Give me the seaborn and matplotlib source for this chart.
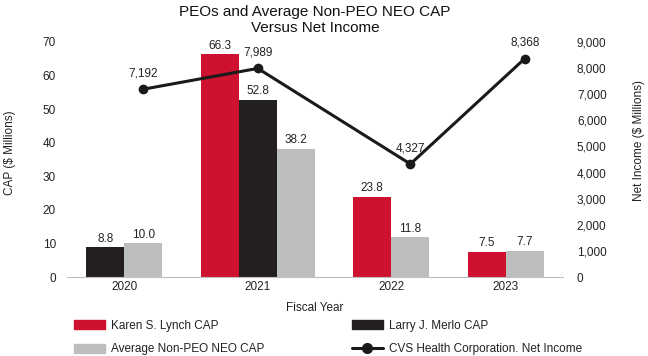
import numpy as np
import pandas as pd
import matplotlib
matplotlib.use("Agg")
import matplotlib.pyplot as plt
from matplotlib.patches import Patch
from matplotlib.lines import Line2D
from matplotlib.ticker import FuncFormatter
import seaborn as sns

years = ["2020", "2021", "2022", "2023"]
lynch_cap = [None, 66.3, 23.8, 7.5]
merlo_cap = [8.8, 52.8, None, None]
neo_cap = [10.0, 38.2, 11.8, 7.7]
net_income = [7192, 7989, 4327, 8368]

series_names = ["Karen S. Lynch CAP", "Larry J. Merlo CAP", "Average Non-PEO NEO CAP"]
line_name = "CVS Health Corporation. Net Income"

# styles / layout
series_colors = ["#CF1130", "#231F20", "#BCBEC0"]
line_color = "#1A1A1A"
group_centers = [1.5, 5.0, 8.5, 11.5]  # in bar widths


def main():
    sns.set_style("white")
    plt.rcParams["font.family"] = ["Liberation Sans", "DejaVu Sans"]
    text_color = "#222222"

    # pack the bars that exist in each year side by side around the group centre
    rows = []
    line_x = []
    for i, year in enumerate(years):
        present = [(name, v) for name, v in zip(series_names, (lynch_cap[i], merlo_cap[i], neo_cap[i])) if v is not None]
        offsets = np.arange(len(present)) - (len(present) - 1) / 2
        for (name, v), off in zip(present, offsets):
            rows.append({"pos": group_centers[i] + off, "value": v, "series": name})
        line_x.append(group_centers[i] + offsets[1])
    bars = pd.DataFrame(rows)

    fig = plt.figure(figsize=(6.48, 3.56), dpi=100)
    ax = fig.add_axes([67 / 648, 1 - 277 / 356, 496 / 648, 235 / 356])

    sns.barplot(data=bars, x="pos", y="value", hue="series", hue_order=series_names,
                palette=series_colors, native_scale=True, dodge=False, width=1.0,
                errorbar=None, saturation=1, linewidth=0, legend=False, ax=ax)
    for c in ax.containers:
        ax.bar_label(c, fmt="%.1f", padding=2, fontsize=8.5, color=text_color)

    ax.set_xlim(0, 13)
    ax.set_ylim(0, 70)
    ax.set_yticks(range(0, 71, 10))
    ax.set_xticks(group_centers)
    ax.set_xticklabels(years)
    ax.tick_params(axis="x", length=0, pad=3, labelsize=8.5, colors=text_color)
    ax.tick_params(axis="y", length=0, pad=8, labelsize=8.5, colors=text_color)
    for s in ["top", "right", "left"]:
        ax.spines[s].set_visible(False)
    ax.spines["bottom"].set_color("#BFBFBF")
    ax.spines["bottom"].set_linewidth(0.8)
    ax.set_xlabel("Fiscal Year", fontsize=8.5, color=text_color)
    ax.xaxis.set_label_coords(0.5, -0.105)
    ax.set_ylabel("CAP ($ Millions)", fontsize=8.5, color=text_color)
    ax.yaxis.set_label_coords(-0.102, 0.53)

    ax2 = ax.twinx()
    sns.lineplot(x=line_x, y=net_income, ax=ax2, color=line_color, marker="o",
                 markersize=7, linewidth=2.2, markeredgewidth=0, legend=False)
    for x, v in zip(line_x, net_income):
        ax2.annotate(f"{v:,}", (x, v), xytext=(0, 7), textcoords="offset points",
                     ha="center", va="bottom", fontsize=8.5, color=text_color)
    ax2.set_ylim(0, 9000)
    ax2.set_yticks(range(0, 9001, 1000))
    ax2.yaxis.set_major_formatter(FuncFormatter(lambda v, p: f"{int(v):,}"))
    ax2.tick_params(axis="y", length=0, pad=10, labelsize=8.5, colors=text_color)
    for s in ax2.spines.values():
        s.set_visible(False)
    ax2.set_ylabel("Net Income ($ Millions)", fontsize=8.5, color=text_color)
    ax2.yaxis.set_label_coords(1.141, 0.58)

    ax.set_title("PEOs and Average Non-PEO NEO CAP\nVersus Net Income", fontsize=11,
                 color="#111111", pad=7, linespacing=1.2)

    left_handles = [Patch(color=series_colors[0]), Patch(color=series_colors[2])]
    right_handles = [Patch(color=series_colors[1]),
                     Line2D([], [], color=line_color, lw=2.2, marker="o", markersize=7)]
    legend_kw = dict(loc="upper left", frameon=False, fontsize=8.5, handlelength=2.6,
                     handleheight=0.8, handletextpad=0.5, labelspacing=0.97,
                     borderpad=0, borderaxespad=0, labelcolor=text_color)
    fig.legend(left_handles, [series_names[0], series_names[2]],
               bbox_to_anchor=(74 / 648, 1 - 320 / 356), **legend_kw)
    fig.legend(right_handles, [series_names[1], line_name],
               bbox_to_anchor=(352 / 648, 1 - 320 / 356), **legend_kw)

    fig.savefig("out.png", dpi=100)


if __name__ == "__main__":
    main()
